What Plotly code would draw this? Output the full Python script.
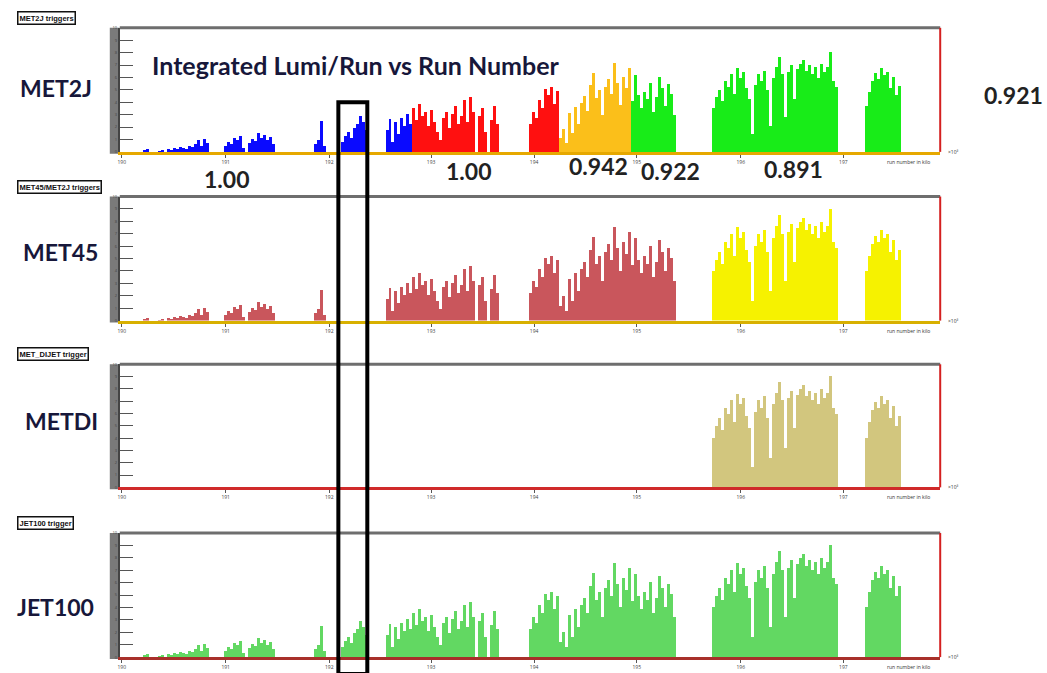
import plotly.graph_objects as go

# ---------------- data: integrated lumi per run bin (axis units 0-10) ----------------
SEG_A = [0, 0.16, 0.24, 0, 0, 0, 0.08, 0.16, 0, 0.24, 0.16, 0.32, 0.24, 0.4, 0.32, 0.24, 0.48, 0.4, 0.64, 0.96, 0.48, 1.04, 0.72]
SEG_B = [0.48, 0.8, 0.64, 1.12, 0.96, 1.28, 0.32, 0, 0.72, 1.04, 0.88, 1.52, 1.12, 1.36, 0.96, 1.2, 0.64]
SEG_C = [0.64, 0.96, 2.48, 0.48]
SEG_D = [0.8, 1.28, 1.6, 1.12, 1.92, 2.24, 2.88, 2.4, 1.76]
SEG_E = [1.76, 2.64, 0.8, 2.4, 1.44, 2.72, 2.08, 3.04, 2.24, 3.52, 2.56, 3.84, 2.88, 3.2, 2.08, 3.36, 2.4, 1.6]
SEG_F = [0.96, 2.72, 3.2, 1.92, 3.04, 3.68, 2.24, 2.88, 4.16, 2.4, 4.4, 3.2]
SEG_G = [2.88, 3.52, 1.6, 0, 2.56, 3.68, 2.24]
SEG_H = [2.24, 3.2, 2.72, 4.16, 3.52, 5.12, 4.64, 5.28, 3.84, 4.96, 1.2, 2.0, 0.8]
SEG_H2 = [3.36, 1.6, 3.84, 2.4, 4.16, 4.8, 3.52, 5.76, 6.8, 4.64, 5.28, 3.2, 5.6, 6.24, 4.96, 7.6,
          5.92, 4.0, 6.4, 5.44, 7.2, 4.48, 6.7, 4.96, 3.84, 5.28, 4.64, 6.08, 3.52, 4.8, 6.56, 5.6,
          4.0, 5.92, 5.12, 3.2]
SEG_I = [4.0, 4.96, 5.6, 4.64, 6.4, 5.92, 7.04, 5.28, 7.6, 6.72, 7.2, 5.76, 4.8, 1.6, 6.08, 7.04,
         6.4, 7.36, 5.6, 2.4, 6.72, 7.68, 8.56, 7.04, 3.2, 7.2, 7.84, 4.8, 7.52, 8.0, 8.32, 7.36,
         7.84, 7.04, 7.68, 6.72, 8.0, 7.2, 7.68, 9.04, 6.4, 5.92]
SEG_J = [0, 4.0, 5.28, 6.24, 6.88, 6.4, 7.36, 6.72, 7.04, 5.6, 6.56, 4.96, 5.76]

# first run bin of each segment
SEG_START = [0, 28, 58, 67, 82, 100, 113, 130, 143, 191, 241]
SEGMENTS = [SEG_A, SEG_B, SEG_C, SEG_D, SEG_E, SEG_F, SEG_G, SEG_H, SEG_H2, SEG_I, SEG_J]

# trigger periods (first bin) and MET2J efficiency factors
PERIOD_START = [0, 91, 140, 164, 185, 236]
PERIOD_FACTOR = [1.00, 1.00, 0.942, 0.922, 0.891, 0.921]

# x axis tick positions (run bins) and labels
TICK_BINS = [-6.5, 28.2, 62.8, 96.8, 131.2, 165.5, 200.2, 234.5]
TICK_TEXT = ["190", "191", "192", "193", "194", "195", "196", "197"]

PANEL_NAMES = ["MET2J", "MET45", "METDI", "JET100"]
PANEL_TITLES = ["MET2J triggers", "MET45/MET2J triggers", "MET_DIJET trigger", "JET100 trigger"]

# ---------------- build bins ----------------
bins, lumi = [], []
for start, seg in zip(SEG_START, SEGMENTS):
    for i, v in enumerate(seg):
        bins.append(start + i)
        lumi.append(v)


def period_of(b):
    p = 0
    for i, s in enumerate(PERIOD_START):
        if b >= s:
            p = i
    return p


BLUE, RED, ORANGE, GREEN = "#0a0aff", "#ff1010", "#fbbf1a", "#18ec18"
BROWN, YELLOW, KHAKI, LGREEN = "#c9565c", "#f6f200", "#d2c67e", "#62d862"

panels = [
    dict(period_colors=[BLUE, RED, ORANGE, GREEN, GREEN, GREEN], scale=True,
         include=lambda b: True, base="#e6a800"),
    dict(period_colors=[BROWN, BROWN, BROWN, BROWN, YELLOW, YELLOW], scale=False,
         include=lambda b: not (62 <= b < 82), base="#d8b000"),
    dict(period_colors=[KHAKI] * 6, scale=False,
         include=lambda b: b >= PERIOD_START[4], base="#d02a2a"),
    dict(period_colors=[LGREEN] * 6, scale=False,
         include=lambda b: True, base="#a8302a"),
]

W, H = 1047, 673
# panel frames in pixels: (top, bottom)
frames = [(25, 150), (195, 320), (364, 488), (534, 659)]
XL, XR = 118, 940


def px(x):
    return x / W


def py(y):
    return 1 - y / H


fig = go.Figure()
layout = dict(
    width=W, height=H, margin=dict(l=0, r=0, t=0, b=0),
    paper_bgcolor="white", plot_bgcolor="white", showlegend=False,
    barmode="overlay", bargap=0,
)

for n, (pan, (top, bot)) in enumerate(zip(panels, frames), start=1):
    groups = {}
    for b, v in zip(bins, lumi):
        if not pan["include"](b):
            continue
        p = period_of(b)
        val = v * PERIOD_FACTOR[p] if pan["scale"] else v
        c = pan["period_colors"][p]
        groups.setdefault(c, ([], []))
        groups[c][0].append(b)
        groups[c][1].append(val)
    xa = "x" if n == 1 else f"x{n}"
    ya = "y" if n == 1 else f"y{n}"
    for c, (xs, ys) in groups.items():
        fig.add_trace(go.Bar(x=xs, y=ys, width=1.0, marker=dict(color=c, line_width=0),
                             xaxis=xa, yaxis=ya, hoverinfo="x+y"))
    kx = "xaxis" if n == 1 else f"xaxis{n}"
    ky = "yaxis" if n == 1 else f"yaxis{n}"
    layout[kx] = dict(domain=[px(XL), px(XR)], anchor=ya, range=[-7.17, 266.83],
                      tickvals=TICK_BINS, ticktext=TICK_TEXT, tickfont=dict(size=5, color="#444"),
                      ticks="outside", ticklen=3, tickcolor="#555",
                      showline=True, linecolor=pan["base"], linewidth=3,
                      showgrid=False, zeroline=False, fixedrange=True)
    layout[ky] = dict(domain=[py(bot), py(top)], anchor=xa, range=[0, 10], dtick=1,
                      ticks="inside", ticklen=13, tickcolor="#555", tickwidth=1,
                      tickfont=dict(size=4, color="#444"),
                      showline=True, linecolor="#444", linewidth=2,
                      showgrid=False, zeroline=False, fixedrange=True)

shapes = []
annotations = []
for n, (top, bot) in enumerate(frames):
    shapes.append(dict(type="line", xref="paper", yref="paper", x0=px(XL), x1=px(XR),
                       y0=py(top), y1=py(top), line=dict(color="#6e6e6e", width=3)))
    shapes.append(dict(type="line", xref="paper", yref="paper", x0=px(XR), x1=px(XR),
                       y0=py(top), y1=py(bot), line=dict(color="#d42020", width=2)))
    shapes.append(dict(type="rect", xref="paper", yref="paper", x0=px(108), x1=px(XL),
                       y0=py(bot + 2), y1=py(top), fillcolor="#7a7a7a", line=dict(width=0),
                       layer="below"))
    annotations.append(dict(x=px(946), y=py(bot), xref="paper", yref="paper", text="×10³",
                            showarrow=False, font=dict(size=5, color="#333"),
                            xanchor="left", yanchor="middle"))
    annotations.append(dict(x=px(908), y=py(bot + 10), xref="paper", yref="paper",
                            text="run number in kilo", showarrow=False,
                            font=dict(size=5, color="#333"), xanchor="center", yanchor="middle"))
    annotations.append(dict(x=px(15), y=py(top - 10), xref="paper", yref="paper",
                            text=f"<b>{PANEL_TITLES[n]}</b>", showarrow=False,
                            xanchor="left", yanchor="middle",
                            font=dict(size=7.5, color="#111", family="Arial"),
                            bordercolor="#111", borderwidth=1.5, borderpad=1, bgcolor="white"))

# big panel labels
label_pos = [(54, 86), (59, 251), (60, 421), (54, 609)]
for name, (lx, ly) in zip(PANEL_NAMES, label_pos):
    annotations.append(dict(x=px(lx), y=py(ly), xref="paper", yref="paper", text=f"<b>{name}</b>",
                            showarrow=False, xanchor="center", yanchor="middle",
                            font=dict(size=23, color="#17173a", family="Lato")))

annotations.append(dict(x=px(355), y=py(62), xref="paper", yref="paper",
                        text="<b>Integrated Lumi/Run vs Run Number</b>", showarrow=False,
                        xanchor="center", yanchor="middle",
                        font=dict(size=25, color="#17173a", family="Lato")))

# efficiency factors
factor_pos = [(225, 177), (467, 169), (598, 164), (670, 169), (793, 167), (1013, 93)]
for f, (fx, fy) in zip(PERIOD_FACTOR, factor_pos):
    txt = "1.00" if f == 1.0 else f"{f:.3f}"
    annotations.append(dict(x=px(fx), y=py(fy), xref="paper", yref="paper", text=f"<b>{txt}</b>",
                            showarrow=False, xanchor="center", yanchor="middle",
                            font=dict(size=23, color="#222", family="Lato")))

# highlight box
shapes.append(dict(type="rect", xref="paper", yref="paper", x0=px(337), x1=px(366),
                   y0=py(676), y1=py(100), line=dict(color="black", width=4)))

layout["shapes"] = shapes
layout["annotations"] = annotations
fig.update_layout(**layout)
fig.write_html("out.html")
